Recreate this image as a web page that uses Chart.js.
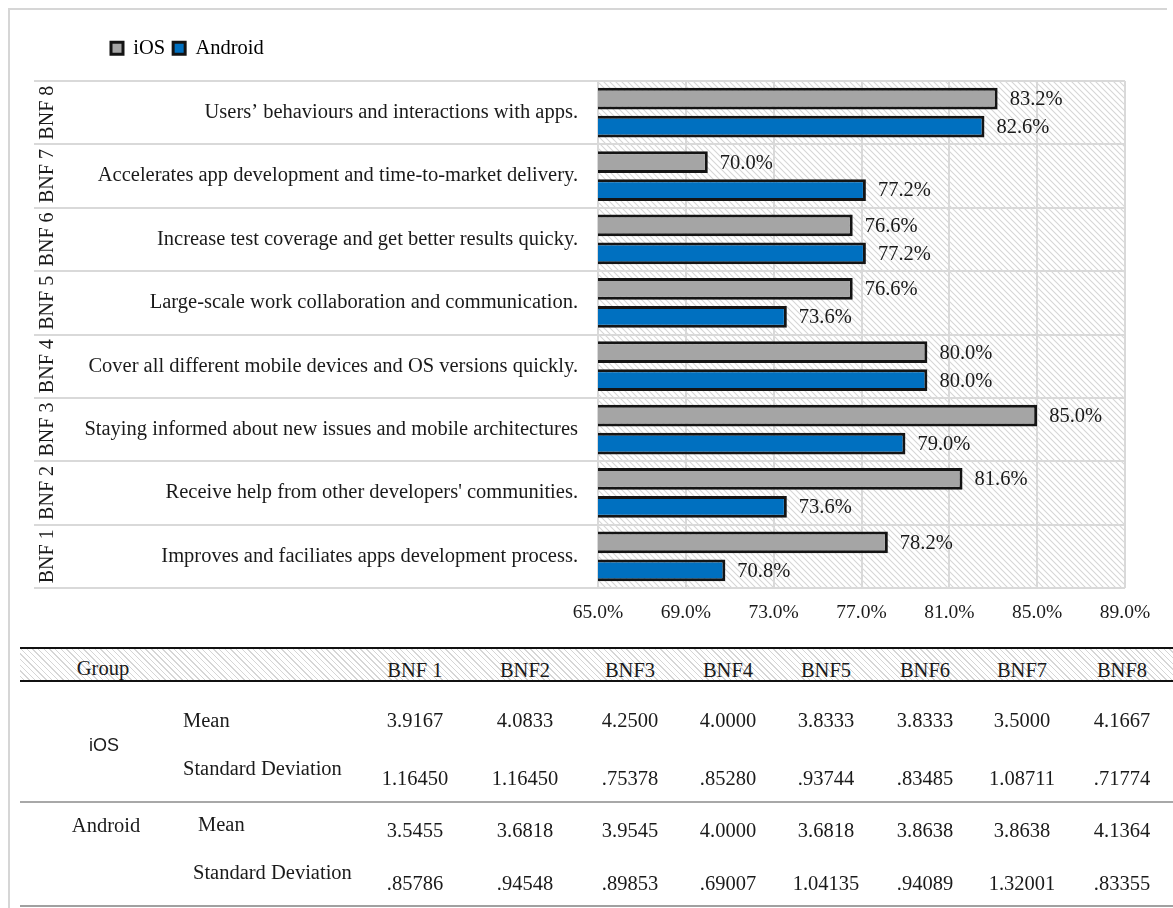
<!DOCTYPE html>
<html>
<head>
<meta charset="utf-8">
<title>Benefits of mobile developer communities: iOS vs Android</title>
<script src="https://cdn.jsdelivr.net/npm/chart.js@4.4.1/dist/chart.umd.min.js"></script>
<style>
  html, body { margin: 0; padding: 0; background: #fff; }
  #page {
    position: relative; width: 1173px; height: 908px; overflow: hidden;
    font-family: 'Liberation Serif', 'Times New Roman', serif; color: #1a1a1a;
  }
  #frame {
    position: absolute; left: 8px; top: 8px; width: 1157px; height: 920px;
    border-left: 2px solid #d6d6d6; border-top: 2px solid #d6d6d6;
  }
  #chartBox { position: absolute; left: 0; top: 0; width: 1173px; height: 640px; }
  #stats { position: absolute; left: 0; top: 0; width: 1173px; height: 908px; pointer-events: none; }
  .t { position: absolute; white-space: nowrap; font-size: 20.5px; line-height: 1; }
  .c { transform: translate(-50%, -50%); }
  .l { transform: translateY(-50%); }
  .sans { font-family: 'Liberation Sans', Arial, sans-serif; font-size: 18px; }
  .rule { position: absolute; left: 20px; width: 1153px; }
  .head-band {
    position: absolute; left: 20px; width: 1153px; top: 649px; height: 32px;
    background: repeating-linear-gradient(45deg, #ffffff 0 3px, #d6d6d6 3px 4px);
  }
</style>
</head>
<body>
<div id="page">
  <div id="frame"></div>
  <div id="chartBox"><canvas id="chart"></canvas></div>
  <div id="stats"></div>
</div>
<script>
// ---- Chart data (BNF 1 .. BNF 8) ----
const categories = ['BNF 1', 'BNF 2', 'BNF 3', 'BNF 4', 'BNF 5', 'BNF 6', 'BNF 7', 'BNF 8'];
const descriptions = [
  'Improves and faciliates apps development process.',
  "Receive help from other developers' communities.",
  'Staying informed about new issues and mobile architectures',
  'Cover all different mobile devices and OS versions quickly.',
  'Large-scale work collaboration and communication.',
  'Increase test coverage and get better results quicky.',
  'Accelerates app development and time-to-market delivery.',
  'Users\u2019 behaviours and interactions with apps.'
];
const iosValues = [78.2, 81.6, 85.0, 80.0, 76.6, 76.6, 70.0, 83.2];
const androidValues = [70.8, 73.6, 79.0, 80.0, 73.6, 77.2, 77.2, 82.6];
const xMin = 65, xMax = 89, xStep = 4;

// ---- Summary table data ----
const tableColumns = ['BNF 1', 'BNF2', 'BNF3', 'BNF4', 'BNF5', 'BNF6', 'BNF7', 'BNF8'];
const iosMean = ['3.9167', '4.0833', '4.2500', '4.0000', '3.8333', '3.8333', '3.5000', '4.1667'];
const iosSd = ['1.16450', '1.16450', '.75378', '.85280', '.93744', '.83485', '1.08711', '.71774'];
const androidMean = ['3.5455', '3.6818', '3.9545', '4.0000', '3.6818', '3.8638', '3.8638', '4.1364'];
const androidSd = ['.85786', '.94548', '.89853', '.69007', '1.04135', '.94089', '1.32001', '.83355'];

// Top-to-bottom drawing order: BNF 8 first
const order = categories.map((_, i) => categories.length - 1 - i);
const pick = arr => order.map(i => arr[i]);

const SERIF = "'Liberation Serif', 'Times New Roman', serif";
const TEXT = '#1a1a1a';
const GRID = '#d9d9d9';
const pct = v => Number(v).toFixed(1) + '%';

// Diagonal hatch used behind the plot area
const tile = document.createElement('canvas');
tile.width = tile.height = 6;
(function () {
  const t = tile.getContext('2d');
  t.strokeStyle = '#d6d6d6';
  t.lineWidth = 1.1;
  t.beginPath();
  t.moveTo(-1, -1); t.lineTo(7, 7);
  t.moveTo(-1, 5); t.lineTo(1, 7);
  t.moveTo(5, -1); t.lineTo(7, 1);
  t.stroke();
})();

const plotDecor = {
  id: 'plotDecor',
  beforeInit(chart) {
    // extra room between the legend and the plot
    const fit = chart.legend.fit;
    chart.legend.fit = function () { fit.call(this); this.height = 51; };
  },
  afterLayout(chart) {
    // indent the legend so it sits over the description column
    chart.legend.left += 43;
    chart.legend.right += 43;
  },
  beforeDraw(chart) {
    const { ctx, chartArea: a } = chart;
    ctx.save();
    ctx.fillStyle = ctx.createPattern(tile, 'repeat');
    ctx.fillRect(a.left, a.top, a.right - a.left, a.bottom - a.top);
    ctx.restore();
  },
  afterDraw(chart) {
    const { ctx, chartArea: a } = chart;
    const y = chart.scales.y;
    const n = y.ticks.length;
    const step = Math.abs(y.getPixelForValue(1) - y.getPixelForValue(0));
    const ruleLeft = 34;

    // row rules continued across the label column
    ctx.save();
    ctx.strokeStyle = GRID;
    ctx.lineWidth = 2;
    ctx.beginPath();
    for (let i = 0; i <= n; i++) {
      const py = Math.round(y.getPixelForValue(0) - step / 2 + i * step);
      ctx.moveTo(ruleLeft, py);
      ctx.lineTo(a.left, py);
    }
    ctx.stroke();

    // rotated group names
    ctx.fillStyle = TEXT;
    ctx.font = '20px ' + SERIF;
    ctx.textAlign = 'center';
    ctx.textBaseline = 'middle';
    const groups = pick(categories);
    groups.forEach((g, i) => {
      ctx.save();
      ctx.translate(48, y.getPixelForValue(i));
      ctx.rotate(-Math.PI / 2);
      ctx.fillText(g, 0, 0);
      ctx.restore();
    });

    // value labels at the end of each bar
    ctx.font = '20.5px ' + SERIF;
    ctx.textAlign = 'left';
    chart.data.datasets.forEach((ds, di) => {
      const meta = chart.getDatasetMeta(di);
      meta.data.forEach((bar, i) => {
        ctx.fillText(pct(ds.data[i]), bar.x + 12, bar.y + 1);
      });
    });
    ctx.restore();
  }
};

Chart.defaults.font.family = SERIF;
Chart.defaults.font.size = 20.5;
Chart.defaults.color = TEXT;

new Chart(document.getElementById('chart'), {
  type: 'bar',
  data: {
    labels: pick(descriptions),
    datasets: [
      {
        label: 'iOS',
        data: pick(iosValues),
        backgroundColor: '#a5a5a5',
        borderColor: '#141414',
        borderWidth: 3
      },
      {
        label: 'Android',
        data: pick(androidValues),
        backgroundColor: '#0070c0',
        borderColor: '#141414',
        borderWidth: 3
      }
    ]
  },
  options: {
    indexAxis: 'y',
    responsive: true,
    maintainAspectRatio: false,
    animation: false,
    categoryPercentage: 0.88,
    barPercentage: 0.78,
    layout: { padding: { left: 60, right: 48, top: 30, bottom: 12 } },
    plugins: {
      legend: {
        position: 'top',
        align: 'start',
        labels: {
          boxWidth: 12, boxHeight: 12, padding: 8,
          color: '#000', font: { size: 20.5, family: SERIF }
        }
      },
      tooltip: { enabled: false }
    },
    scales: {
      x: {
        min: xMin, max: xMax,
        grid: { color: GRID, lineWidth: 2, drawTicks: false },
        border: { display: false },
        ticks: { stepSize: xStep, padding: 13, callback: v => pct(v), color: TEXT, font: { size: 19.5 } },
        afterFit(scale) { scale.height = 40; }
      },
      y: {
        grid: { color: GRID, lineWidth: 2, drawTicks: false, offset: true },
        border: { color: GRID, width: 2 },
        ticks: { padding: 20, autoSkip: false, color: TEXT },
        afterFit(scale) { scale.width = 538; }
      }
    }
  },
  plugins: [plotDecor]
});

// ---- Summary statistics table ----
(function buildTable() {
  const box = document.getElementById('stats');
  const colX = [415, 525, 630, 728, 826, 925, 1022, 1122];
  const add = (txt, x, y, cls) => {
    const d = document.createElement('div');
    d.className = 't ' + cls;
    d.style.left = x + 'px';
    d.style.top = y + 'px';
    d.textContent = txt;
    box.appendChild(d);
  };
  const rule = (y, h, color) => {
    const d = document.createElement('div');
    d.className = 'rule';
    d.style.top = y + 'px';
    d.style.height = h + 'px';
    d.style.background = color;
    box.appendChild(d);
  };
  const band = document.createElement('div');
  band.className = 'head-band';
  box.appendChild(band);
  rule(647, 2, '#111');
  rule(680, 2, '#111');
  rule(801, 2, '#a8a8a8');
  rule(905, 2, '#a0a0a0');

  add('Group', 103, 668, 'c');
  tableColumns.forEach((c, i) => add(c, colX[i], 670, 'c'));

  add('iOS', 104, 745, 'c sans');
  add('Mean', 183, 720, 'l');
  add('Standard Deviation', 183, 768, 'l');
  iosMean.forEach((v, i) => add(v, colX[i], 720, 'c'));
  iosSd.forEach((v, i) => add(v, colX[i], 778, 'c'));

  add('Android', 106, 825, 'c');
  add('Mean', 198, 824, 'l');
  add('Standard Deviation', 193, 872, 'l');
  androidMean.forEach((v, i) => add(v, colX[i], 830, 'c'));
  androidSd.forEach((v, i) => add(v, colX[i], 883, 'c'));
})();
</script>
</body>
</html>
